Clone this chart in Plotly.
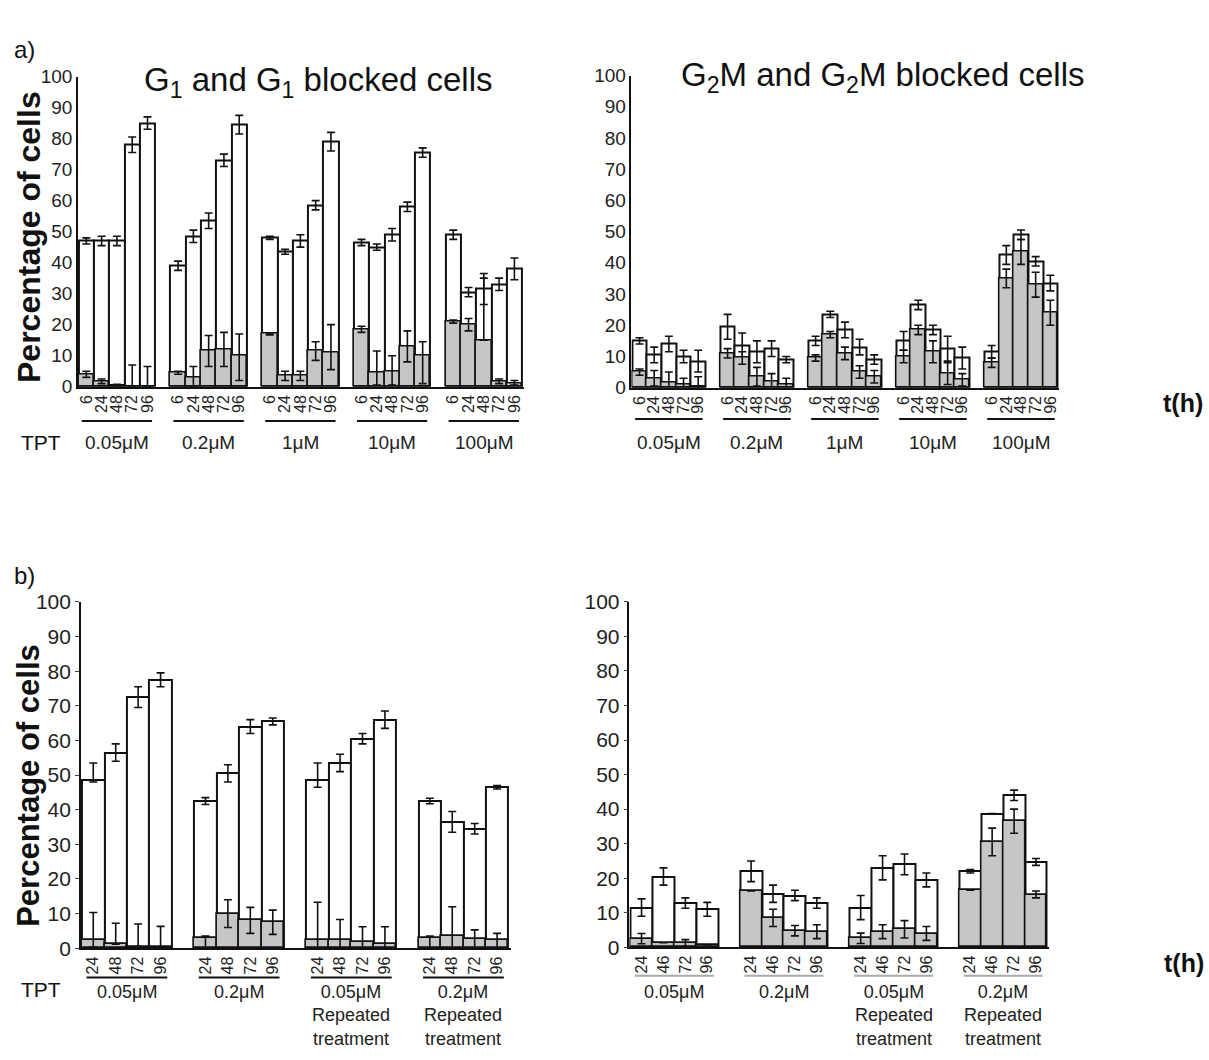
import plotly.graph_objects as go

W, H = 1209, 1060
FONT = "Liberation Sans, Arial, sans-serif"
GRAY = "#c6c6c6"

# ---------------- data ----------------
conc_a = ["0.05μM", "0.2μM", "1μM", "10μM", "100μM"]
times_a = ["6", "24", "48", "72", "96"]

g1_total = [47, 47, 47, 78, 85,
            39, 48.5, 53.5, 73, 84.5,
            48, 43.5, 47, 58.5, 79,
            46.5, 45, 49, 58, 75.5,
            49, 30.5, 31.5, 33, 38]
g1_total_err = [1, 1.5, 1.5, 2.5, 2,
                1.5, 2, 2.5, 2, 3,
                0.5, 0.8, 2, 1.5, 3,
                1, 1, 2, 1.5, 1.5,
                1.5, 1.5, 5, 2, 3.5]
g1_blocked = [4, 1.5, 0.5, 0, 0,
              4.5, 3, 11.5, 12, 10,
              17, 3.5, 3.5, 11.5, 11,
              18.5, 4.5, 5, 13, 10,
              21, 20, 15, 1.5, 1]
g1_blocked_err_plus = [1, 1, 0.3, 7, 6.5,
                       0.5, 3.5, 5, 5.5, 7,
                       0.3, 1.5, 1.5, 3, 9,
                       1, 7, 5, 5, 4.5,
                       0.5, 2, 20, 1, 1]
g1_blocked_err_minus = [1, 0.5, 0.3, 0, 0,
                        0.5, 3, 5, 5.5, 8,
                        0.3, 1.5, 1.5, 3, 5.5,
                        1, 4, 4.5, 5, 9,
                        0.5, 2, 0, 0.5, 0.5]

g2_total = [15, 10.5, 14, 10, 8.5,
            19.5, 13.5, 11.5, 12.5, 9,
            15, 23.5, 18.5, 13, 9,
            15, 26.5, 18.5, 12.5, 9.5,
            11.5, 42.5, 49, 40.5, 33.5]
g2_total_err = [1, 2.5, 2.5, 2, 3.5,
                4, 4, 3.5, 2.5, 1,
                1.5, 1, 2.5, 2.5, 1.5,
                3, 1.5, 1.5, 4, 3.5,
                2, 3, 1.5, 1.5, 2.5]
g2_blocked = [5, 3, 1.5, 1, 0.5,
              11, 9.5, 3.5, 2, 1,
              9.5, 17, 11, 5, 3.5,
              10, 18.5, 11.5, 4.5, 2.5,
              8, 35, 43.5, 33, 24]
g2_blocked_err = [1, 2.5, 3.5, 2, 3,
                  1.5, 2, 3, 2.5, 2,
                  1, 1, 2, 2, 2,
                  2, 1.5, 3.5, 3.5, 2,
                  1.5, 3, 4, 4, 4]

conc_b = ["0.05μM", "0.2μM", "0.05μM<br>Repeated<br>treatment", "0.2μM<br>Repeated<br>treatment"]
times_b_left = ["24", "48", "72", "96"]
times_b_right = ["24", "46", "72", "96"]

b1_total = [48.5, 56.5, 72.5, 77.5,
            42.5, 50.5, 64, 65.5,
            48.5, 53.5, 60.5, 66,
            42.5, 36.5, 34.5, 46.5]
b1_total_err_plus = [5, 2.5, 3, 2, 1, 2.5, 2, 1, 5, 2.5, 1.5, 2.5, 0.8, 3, 1.5, 0.5]
b1_total_err_minus = [0.5, 2.5, 3, 2, 1, 2.5, 2, 1, 2, 2.5, 1.5, 2.5, 0.8, 3, 1.5, 0.5]
b1_blocked = [2.3, 1.2, 0.5, 0.3,
              3, 10, 8.3, 7.5,
              2.3, 2.3, 1.7, 1.2,
              3, 3.5, 2.8, 2.3]
b1_blocked_err_plus = [8, 6, 6.5, 6, 0.5, 4, 3.5, 3.5, 11, 6, 4.5, 5, 0.5, 8.5, 2.5, 2]
b1_blocked_err_minus = [2, 0, 0, 0, 3, 4, 4, 3.5, 2.3, 2.3, 1.7, 1.2, 3, 3.5, 2.8, 2.3]

b2_total = [11.5, 20.5, 12.8, 11,
            22, 15.5, 15, 12.8,
            11.5, 23, 24, 19.5,
            22, 38.7, 44, 24.7]
b2_total_err = [2.5, 2.5, 1.5, 2, 3, 2.5, 1.5, 1.5, 3.5, 3.5, 3, 2, 0.5, 0, 1.5, 1]
b2_blocked = [2.5, 1.3, 1.2, 0.7,
              16.3, 8.5, 4.8, 4.5,
              2.6, 4.5, 5.2, 4,
              16.5, 30.5, 36.5, 15.3]
b2_blocked_err = [1.5, 0, 1, 0, 0, 2.5, 1.5, 2, 1.5, 2, 2.5, 2, 0, 4, 3.5, 1]

y_ticks = list(range(0, 101, 10))


# ---------------- helpers ----------------
def px_x(x):
    return x / W


def px_y(y):
    return 1 - y / H


def positions(n_groups, n_per):
    pos = []
    for g in range(n_groups):
        for i in range(n_per):
            pos.append(g * (n_per + 1) + i)
    return pos


fig = go.Figure()

panels = [
    dict(ax="", ng=5, nper=5, times=times_a, groups=conc_a,
         total=g1_total, tep=g1_total_err, tem=g1_total_err,
         blocked=g1_blocked, bep=g1_blocked_err_plus, bem=g1_blocked_err_minus,
         xdom=(77, 523), ydom=(383, 66), tickfs=19, line_y=418, lab_y=440,
         line_col="#111", xfs=16, ticks=""),
    dict(ax="2", ng=5, nper=5, times=times_a, groups=conc_a,
         total=g2_total, tep=g2_total_err, tem=g2_total_err,
         blocked=g2_blocked, bep=g2_blocked_err, bem=g2_blocked_err,
         xdom=(631, 1059), ydom=(384, 65), tickfs=19, line_y=416, lab_y=440,
         line_col="#111", xfs=16, ticks=""),
    dict(ax="3", ng=4, nper=4, times=times_b_left, groups=conc_b,
         total=b1_total, tep=b1_total_err_plus, tem=b1_total_err_minus,
         blocked=b1_blocked, bep=b1_blocked_err_plus, bem=b1_blocked_err_minus,
         xdom=(80, 510), ydom=(957, 603), tickfs=21, line_y=987, lab_y=1000,
         line_col="#111", xfs=16, ticks="outside"),
    dict(ax="4", ng=4, nper=4, times=times_b_right, groups=conc_b,
         total=b2_total, tep=b2_total_err, tem=b2_total_err,
         blocked=b2_blocked, bep=b2_blocked_err, bem=b2_blocked_err,
         xdom=(629, 1049), ydom=(956, 603), tickfs=21, line_y=985, lab_y=1000,
         line_col="#aaa", xfs=16, ticks="outside"),
]

annotations = []
shapes = []

for p in panels:
    xs = positions(p["ng"], p["nper"])
    xa = "x" + p["ax"]
    ya = "y" + p["ax"]
    fig.add_trace(go.Bar(
        x=xs, y=p["total"], xaxis=xa, yaxis=ya, width=1,
        marker=dict(color="white", line=dict(color="#111", width=2)),
        error_y=dict(type="data", array=p["tep"], arrayminus=p["tem"],
                     color="#111", thickness=1.6, width=4),
        hoverinfo="y"))
    fig.add_trace(go.Bar(
        x=xs, y=p["blocked"], xaxis=xa, yaxis=ya, width=1,
        marker=dict(color=GRAY, line=dict(color="#111", width=1.6)),
        error_y=dict(type="data", array=p["bep"], arrayminus=p["bem"],
                     color="#111", thickness=1.6, width=4),
        hoverinfo="y"))

    nunits = p["ng"] * (p["nper"] + 1) - 1
    key = p["ax"]
    fig.layout["xaxis" + key] = dict(
        domain=[px_x(p["xdom"][0]), px_x(p["xdom"][1])],
        range=[-0.55, nunits - 0.4], anchor=ya,
        tickmode="array", tickvals=xs, ticktext=p["times"] * p["ng"],
        tickangle=-90, tickfont=dict(family=FONT, size=p["xfs"], color="#222"),
        showline=True, linecolor="#111", linewidth=2, ticks="",
        showgrid=False, zeroline=False, fixedrange=True)
    fig.layout["yaxis" + key] = dict(
        domain=[px_y(p["ydom"][0]), px_y(p["ydom"][1])],
        range=[0, 100], anchor=xa,
        tickmode="array", tickvals=y_ticks,
        tickfont=dict(family=FONT, size=p["tickfs"], color="#222"),
        showline=True, linecolor="#111", linewidth=1.5,
        ticks=p["ticks"], ticklen=4, tickcolor="#444",
        showgrid=False, zeroline=False, fixedrange=True)

    for g, name in enumerate(p["groups"]):
        start = g * (p["nper"] + 1)
        end = start + p["nper"] - 1
        shapes.append(dict(type="line", xref=xa, yref="paper",
                           x0=start - 0.3, x1=end + 0.3,
                           y0=px_y(p["line_y"]), y1=px_y(p["line_y"]),
                           line=dict(color=p["line_col"], width=2)))
        if p["ng"] == 4:
            annotations.append(dict(xref=xa, yref="paper", x=(start + end) / 2,
                                    y=px_y(989), yanchor="top",
                                    text=name, showarrow=False,
                                    font=dict(family=FONT, size=18, color="#222")))
        else:
            annotations.append(dict(xref=xa, yref="paper", x=(start + end) / 2,
                                    y=px_y(p["lab_y"]), yanchor="middle",
                                    text=name, showarrow=False,
                                    font=dict(family=FONT, size=19, color="#222")))


def text(x, y, s, size, bold=False, angle=0, xanchor="center", yanchor="middle", color="#111"):
    annotations.append(dict(xref="paper", yref="paper", x=px_x(x), y=px_y(y),
                            text=("<b>%s</b>" % s) if bold else s, showarrow=False,
                            textangle=angle, xanchor=xanchor, yanchor=yanchor,
                            font=dict(family=FONT, size=size, color=color)))


text(11, 38, "a)", 24, xanchor="left")
text(11, 576, "b)", 24, xanchor="left")
text(28, 230, "Percentage of cells", 32, bold=True, angle=-90)
text(28, 790, "Percentage of cells", 31, bold=True, angle=-90)
text(318, 72, "G<sub>1</sub> and G<sub>1</sub> blocked cells", 33)
text(883, 66, "G<sub>2</sub>M and G<sub>2</sub>M blocked cells", 33)
text(40, 440, "TPT", 21)
text(40, 999, "TPT", 21)
text(1183, 400, "t(h)", 25, bold=True)
text(1184, 972, "t(h)", 25, bold=True)

fig.update_layout(
    width=W, height=H, autosize=False,
    margin=dict(l=0, r=0, t=0, b=0, pad=0),
    paper_bgcolor="white", plot_bgcolor="white",
    barmode="overlay", bargap=0, showlegend=False,
    annotations=annotations, shapes=shapes,
    font=dict(family=FONT, color="#111"),
)

fig.write_html("out.html")
